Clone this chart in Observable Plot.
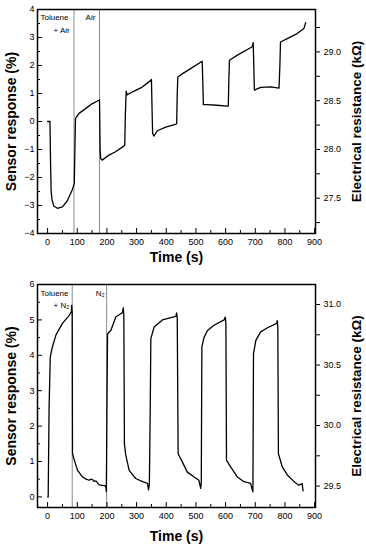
<!DOCTYPE html>
<html><head><meta charset="utf-8">
<script src="https://cdn.jsdelivr.net/npm/d3@7"></script>
<script src="https://cdn.jsdelivr.net/npm/@observablehq/plot@0.6"></script>
<style>
body{margin:0;background:#fff;}
#chart svg{display:block;}
g[aria-label$="axis label"] text{font-weight:bold;}
</style>
</head><body><div id="chart"></div>
<script>
// ---- Data: top panel (Toluene + Air) ----
const topTime = [0,8,10,12,15,21,33,50,66,83,90,92,94,106,128,151,173,175,177,179,184,207,229,257,260,262,264,265,268,274,297,319,347,350,352,354,358,370,398,431,435,437,439,455,482,521,523,525,538,571,605,609,611,613,640,690,693,695,697,718,752,780,783,785,808,841,864,870];
const topResp = [0,0,-1.5,-2.5,-2.8,-3.02,-3.1,-3.05,-2.84,-2.45,-2.2,-1.0,0.11,0.29,0.46,0.64,0.76,0.78,-1.0,-1.32,-1.38,-1.2,-1.08,-0.88,-0.84,0.2,0.85,1.08,0.95,0.99,1.11,1.23,1.46,1.5,0.5,-0.43,-0.52,-0.33,-0.2,-0.1,-0.08,1.0,1.59,1.71,1.89,2.15,1.5,0.6,0.6,0.58,0.55,0.55,1.5,2.19,2.37,2.67,2.82,2.0,1.12,1.22,1.24,1.19,2.0,2.84,2.96,3.14,3.32,3.53];

// ---- Data: bottom panel (Toluene + N2) ----
const botTime = [0,2,5,9,15,28,50,73,80,81,83,84,88,92,101,118,130,140,145,151,157,163,174,190,196,198,200,202,213,230,252,255,257,259,263,275,297,320,337,340,343,346,348,359,387,432,435,437,440,454,471,494,510,516,518,520,527,539,561,595,599,601,603,617,640,662,684,692,694,702,718,740,772,774,776,778,791,808,831,847,855,858,861];
const botResp = [0,0,2.5,3.95,4.2,4.57,4.9,5.13,5.23,5.41,5.2,1.22,1.1,0.99,0.75,0.56,0.5,0.47,0.5,0.49,0.44,0.45,0.34,0.32,0.31,0.15,2.5,4.6,4.7,5.08,5.2,5.34,5.1,1.5,1.2,0.75,0.52,0.43,0.38,0.2,0.35,2.5,4.47,4.8,5.0,5.1,5.2,5.05,1.22,0.99,0.7,0.56,0.47,0.24,0.4,4.24,4.5,4.7,4.85,5.0,5.08,4.9,1.04,0.85,0.56,0.43,0.38,0.14,4.05,4.42,4.66,4.77,4.9,4.98,4.8,1.22,0.85,0.62,0.43,0.33,0.36,0.38,0.17];

// ---- Ticks ----
const xTicks = [0,100,200,300,400,500,600,700,800,900];
const xMinor = [50,150,250,350,450,550,650,750,850];
const topYTicks = [-4,-3,-2,-1,0,1,2,3,4];
const topYMinor = [-3.5,-2.5,-1.5,-0.5,0.5,1.5,2.5,3.5];
const topRTicks = [27.5,28.0,28.5,29.0];
const topRMinor = [27.25,27.75,28.25,28.75,29.25];
const botYTicks = [0,1,2,3,4,5,6];
const botYMinor = [0.5,1.5,2.5,3.5,4.5,5.5];
const botRTicks = [29.5,30.0,30.5,31.0];
const botRMinor = [29.75,30.25,30.75];

// ---- Switch times (vertical lines) and annotations ----
const topSwitch = [89,175];
const botSwitch = [83,199];
const topNotes = [{label:"Toluene", t:-24, s:3.7},{label:"+ Air", t:20, s:3.26},{label:"Air", t:128, s:3.7}];
const botNotes = [{label:"Toluene", t:-24, s:5.76},{label:"+ N\u2082", t:20, s:5.42},{label:"N\u2082", t:162, s:5.76}];

// resistance (kΩ) -> sensor response (%) on each panel's shared y scale
const topRtoS = r => 2.486 + (r - 29) * 3.484;
const botRtoS = r => 5.435 + (r - 31) * 3.42;

function panel({time, resp, yDomain, yTicks, yMinor, rTicks, rMinor, rToS, switches, notes, height, marginTop, marginBottom, xLabelOffset}) {
  const data = time.map((t, i) => ({t, s: resp[i]}));
  return Plot.plot({
    width: 366, height, marginTop, marginBottom, marginLeft: 37, marginRight: 51,
    style: {fontFamily: "'Liberation Sans', Arial, sans-serif", fontSize: "9px", color: "#000", background: "#fff"},
    x: {domain: [-34, 903]},
    y: {domain: yDomain},
    marks: [
      Plot.ruleX(switches, {stroke: "#8a8a8a", strokeWidth: 1}),
      Plot.line(data, {x: "t", y: "s", stroke: "#000", strokeWidth: 1.3}),
      Plot.text(notes, {x: "t", y: "s", text: "label", textAnchor: "start", fontSize: 8, fill: "#000"}),
      Plot.frame({stroke: "#000", strokeWidth: 1.5}),
      Plot.axisX(xTicks, {tickSize: -5, tickPadding: 10, label: null}),
      Plot.axisX(xMinor, {tickSize: -3, tickFormat: () => "", label: null}),
      Plot.axisX([], {label: "Time (s)", labelAnchor: "center", labelArrow: "none", labelOffset: xLabelOffset, fontSize: 14, tickSize: 0}),
      Plot.axisY(yTicks, {tickSize: -5, tickPadding: 8, label: null}),
      Plot.axisY(yMinor, {tickSize: -3, tickFormat: () => "", label: null}),
      Plot.axisY([], {label: "Sensor response (%)", labelAnchor: "center", labelArrow: "none", labelOffset: 31, fontSize: 14, tickSize: 0}),
      Plot.axisY(rTicks.map(rToS), {anchor: "right", tickSize: 4, tickPadding: 4, tickFormat: (d, i) => rTicks[i].toFixed(1), label: null}),
      Plot.axisY(rMinor.map(rToS), {anchor: "right", tickSize: 4, tickFormat: () => "", label: null}),
      Plot.axisY([], {anchor: "right", label: "Electrical resistance (k\u03A9)", labelAnchor: "center", labelArrow: "none", labelOffset: 45, fontSize: 13.5, tickSize: 0})
    ]
  });
}

const chart = document.getElementById("chart");
chart.append(panel({time: topTime, resp: topResp, yDomain: [-4, 4], yTicks: topYTicks, yMinor: topYMinor, rTicks: topRTicks, rMinor: topRMinor, rToS: topRtoS, switches: topSwitch, notes: topNotes, height: 270, marginTop: 9, marginBottom: 37, xLabelOffset: 28}));
chart.append(panel({time: botTime, resp: botResp, yDomain: [-0.3, 6], yTicks: botYTicks, yMinor: botYMinor, rTicks: botRTicks, rMinor: botRMinor, rToS: botRtoS, switches: botSwitch, notes: botNotes, height: 280, marginTop: 14, marginBottom: 43, xLabelOffset: 33}));
</script></body></html>
